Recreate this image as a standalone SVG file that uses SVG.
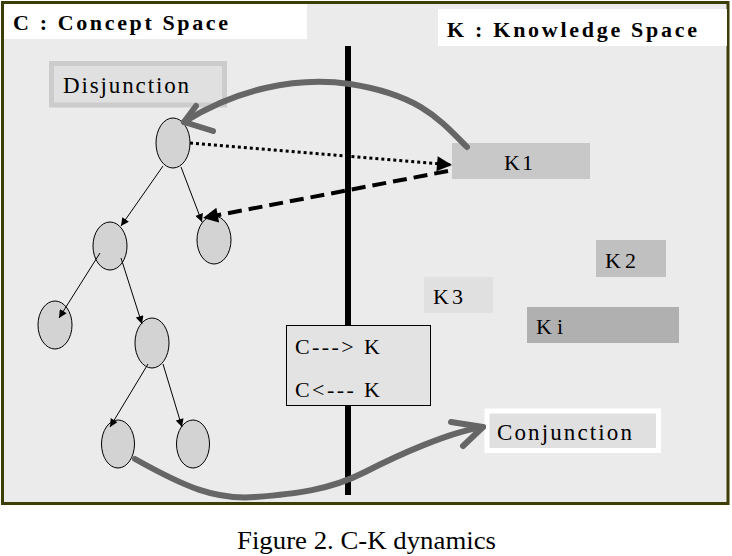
<svg xmlns="http://www.w3.org/2000/svg" width="732" height="556" viewBox="0 0 732 556">
<defs>
<style>
.t{font-family:"Liberation Serif","Times New Roman",serif;fill:#000;}
.b{font-weight:bold;}
.nd{fill:#d3d3d3;stroke:#000;stroke-width:1;}
.edge{stroke:#000;stroke-width:1;fill:none;marker-end:url(#sm);}
.gray{stroke:#666;stroke-width:6;fill:none;stroke-linecap:round;stroke-linejoin:round;}
</style>
<marker id="sm" viewBox="0 0 10 10" refX="10" refY="5" markerWidth="9" markerHeight="8" markerUnits="userSpaceOnUse" orient="auto"><path d="M0,0 L10,5 L0,10 z" fill="#000"/></marker>
<marker id="bm" viewBox="0 0 10 10" refX="10" refY="5" markerWidth="16" markerHeight="15" markerUnits="userSpaceOnUse" orient="auto"><path d="M0,0 L10,5 L0,10 z" fill="#000"/></marker>
</defs>
<rect x="0" y="0" width="732" height="556" fill="#fff"/>
<rect id="frame" x="2.5" y="2.5" width="725.5" height="501" fill="#ebebeb" stroke="#3d3d08" stroke-width="3"/>
<g id="c-label"><rect x="4" y="4" width="303" height="35" fill="#fff"/><text class="t b" x="13" y="30" font-size="22" textLength="215" lengthAdjust="spacing">C : Concept Space</text></g>
<g id="k-label"><rect x="438" y="9" width="289" height="37" fill="#fff"/><text class="t b" x="447" y="37" font-size="22" textLength="250" lengthAdjust="spacing">K : Knowledge Space</text></g>
<line id="divider" x1="348" y1="46" x2="348" y2="495" stroke="#000" stroke-width="6"/>
<g id="disjunction"><rect x="51.5" y="63.5" width="173" height="41.5" fill="#e0e0e0" stroke="#cccccc" stroke-width="5"/><text class="t" x="63" y="93" font-size="23" textLength="126" lengthAdjust="spacing">Disjunction</text></g>
<g id="k1"><rect x="452" y="143" width="138" height="36" fill="#c8c8c8"/><text class="t" x="504" y="170" font-size="22" textLength="29" lengthAdjust="spacing">K1</text></g>
<g id="k2"><rect x="596" y="240" width="70" height="37" fill="#c0c0c0"/><text class="t" x="605" y="268" font-size="22" textLength="31" lengthAdjust="spacing">K2</text></g>
<g id="k3"><rect x="424" y="277" width="69" height="36" fill="#e0e0e0"/><text class="t" x="433" y="304" font-size="22" textLength="30" lengthAdjust="spacing">K3</text></g>
<g id="ki"><rect x="527" y="307" width="152" height="36" fill="#b0b0b0"/><text class="t" x="536" y="334" font-size="22" textLength="27" lengthAdjust="spacing">Ki</text></g>
<g id="ck-box"><rect x="286.5" y="325.5" width="144" height="80" fill="#e3e3e3" stroke="#000" stroke-width="1"/><text class="t" x="295" y="354" font-size="22" textLength="85" lengthAdjust="spacing">C---&gt; K</text><text class="t" x="295" y="397" font-size="22" textLength="85" lengthAdjust="spacing">C&lt;--- K</text></g>
<g id="conjunction"><rect x="487" y="411" width="171.5" height="39.5" fill="#e0e0e0" stroke="#fff" stroke-width="5"/><text class="t" x="497" y="440" font-size="23" textLength="135" lengthAdjust="spacing">Conjunction</text></g>
<g id="n-root"><ellipse class="nd" cx="173" cy="143" rx="17" ry="25"/></g>
<g id="n-b"><ellipse class="nd" cx="110" cy="246" rx="17" ry="24"/></g>
<g id="n-c"><ellipse class="nd" cx="214" cy="240" rx="17" ry="24"/></g>
<g id="n-d"><ellipse class="nd" cx="55" cy="325" rx="17" ry="24"/></g>
<g id="n-e"><ellipse class="nd" cx="152" cy="343" rx="17" ry="25"/></g>
<g id="n-f"><ellipse class="nd" cx="118" cy="444" rx="16.5" ry="24"/></g>
<g id="n-g"><ellipse class="nd" cx="193" cy="444" rx="16.5" ry="24"/></g>
<g id="connectors">
<line class="edge" x1="163" y1="166" x2="121" y2="226"/>
<line class="edge" x1="181" y1="167" x2="202" y2="222"/>
<line class="edge" x1="100" y1="253" x2="59" y2="318"/>
<line class="edge" x1="121" y1="258" x2="142" y2="324"/>
<line class="edge" x1="148" y1="364" x2="110" y2="427"/>
<line class="edge" x1="163" y1="364" x2="182" y2="427"/>
<line x1="190" y1="143" x2="452" y2="165" stroke="#000" stroke-width="3" stroke-dasharray="3,3" marker-end="url(#bm)"/>
<line x1="448" y1="171" x2="203" y2="218" stroke="#000" stroke-width="4" stroke-dasharray="14,7" marker-end="url(#bm)"/>
<path class="gray" d="M467,147 C440,120 420,95 350,84 C295,76 235,90 184,122"/>
<polyline class="gray" points="196,106 184,122 213,131"/>
<path class="gray" d="M135,459 C185,487 215,500 255,497 S330,490 365,472 S450,432 483,427"/>
<polyline class="gray" points="451,422 483,427 463,446"/>
</g>
<text id="caption" class="t" x="237" y="549" font-size="26" textLength="259" lengthAdjust="spacingAndGlyphs">Figure 2. C-K dynamics</text>
</svg>
